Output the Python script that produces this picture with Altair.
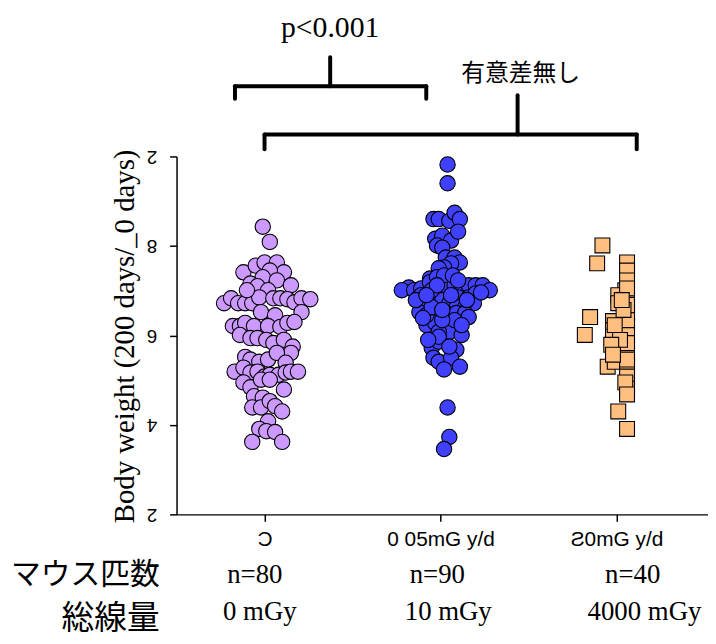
import json
import altair as alt
import pandas as pd

# ---------------- data ----------------
groups = ["C", "0.05 mGy/d", "20 mGy/d"]
tick_text = ["Ɔ", "0 05mG y/d", "Ƨ0mG y/d"]
colors = ["#cc99ff", "#4040ff", "#ffbf80"]

# group C (n=80): horizontal jitter (category units) and body-weight ratio (axis units)
c_offset = [-0.01, 0.03, -0.12, -0.05, 0.00, 0.07, 0.11, 0.03, -0.01, 0.07,
            -0.08, -0.04, 0.15, 0.02, -0.23, -0.19, -0.15, -0.11, -0.07, -0.03,
            0.05, 0.09, 0.13, 0.17, 0.21, 0.26, -0.02, 0.06, 0.21, -0.18,
            -0.14, -0.11, -0.06, 0.02, 0.09, 0.13, 0.17, -0.14, -0.08, -0.04,
            0.01, 0.05, 0.11, 0.16, 0.15, -0.11, -0.08, -0.03, 0.02, 0.07,
            0.12, -0.17, -0.12, -0.08, -0.04, 0.00, 0.03, 0.08, 0.12, 0.15,
            0.19, -0.12, -0.08, -0.02, 0.03, 0.11, -0.06, -0.01, -0.07, -0.02,
            0.03, 0.06, 0.10, 0.02, -0.03, 0.01, 0.06, -0.07, 0.10, -0.10]
c_value = [8.43, 8.09, 7.41, 7.56, 7.63, 7.63, 7.41, 7.45, 7.30, 7.23,
           7.16, 7.10, 7.12, 7.01, 6.72, 6.83, 6.72, 6.72, 6.72, 6.85,
           6.83, 6.83, 6.81, 6.74, 6.83, 6.81, 6.52, 6.45, 6.52, 6.21,
           6.21, 6.28, 6.21, 6.21, 6.19, 6.28, 6.30, 6.01, 5.94, 5.94,
           5.90, 5.83, 5.90, 5.75, 5.61, 5.52, 5.46, 5.41, 5.46, 5.61,
           5.39, 5.19, 5.28, 5.17, 5.19, 5.08, 5.12, 5.12, 5.17, 5.19,
           5.19, 4.95, 4.84, 5.01, 5.01, 4.79, 4.64, 4.61, 4.39, 4.39,
           4.53, 4.42, 4.30, 4.08, 3.91, 3.86, 3.84, 3.62, 3.62, 7.01]

# group 0.05 mGy/d (n=90)
l_offset = [0.04, 0.04, -0.04, -0.01, 0.05, 0.08, 0.11, -0.03, 0.01, 0.06,
            0.10, -0.02, 0.01, 0.03, 0.08, 0.11, 0.06, 0.02, -0.01, -0.06,
            0.02, -0.18, -0.22, -0.15, -0.11, -0.06, -0.02, 0.02, -0.02, 0.03,
            0.08, 0.13, 0.16, 0.20, 0.24, 0.28, 0.10, 0.16, 0.20, -0.12,
            -0.08, -0.04, 0.01, 0.05, 0.09, 0.14, 0.19, -0.12, -0.01, 0.03,
            0.09, 0.14, 0.16, -0.08, -0.03, 0.02, 0.05, 0.12, -0.01, -0.05,
            -0.01, 0.09, -0.04, -0.01, 0.06, 0.02, 0.11, -0.08, -0.05, -0.10,
            -0.01, -0.07, 0.05, 0.08, -0.11, 0.06, 0.15, -0.05, 0.12, 0.01,
            -0.14, 0.23, 0.05, 0.02, 0.04, -0.02, 0.07, 0.10, -0.08, 0.01]
l_value = [9.82, 9.40, 8.60, 8.60, 8.56, 8.74, 8.60, 8.16, 8.23, 8.12,
           8.32, 8.01, 7.96, 7.74, 7.74, 7.63, 7.61, 7.52, 7.50, 7.27,
           7.27, 7.07, 7.01, 7.01, 7.05, 7.19, 7.30, 7.34, 6.94, 7.01,
           7.12, 7.05, 7.12, 7.12, 7.12, 7.01, 6.85, 6.85, 6.94, 6.74,
           6.72, 6.79, 6.79, 6.72, 6.63, 6.63, 6.72, 6.52, 6.52, 6.50,
           6.50, 6.50, 6.41, 6.23, 6.28, 6.19, 6.08, 6.01, 6.08, 5.72,
           5.86, 5.68, 5.50, 5.41, 5.50, 5.24, 5.30, 6.45, 6.63, 6.39,
           5.97, 5.90, 5.75, 6.34, 6.90, 6.90, 6.79, 7.01, 6.23, 6.34,
           6.79, 6.96, 3.73, 3.46, 4.39, 7.12, 7.34, 7.23, 6.90, 6.57]

# group 20 mGy/d (n=40)
h_offset = [-0.08, -0.11, 0.06, 0.06, 0.06, 0.05, 0.01, 0.06, 0.01, 0.06,
            -0.15, -0.02, 0.06, -0.18, -0.02, -0.02, 0.06, -0.01, 0.03, 0.06,
            -0.05, -0.01, 0.06, 0.06, 0.06, 0.01, 0.06, 0.06, 0.06, 0.06,
            0.06, 0.06, 0.04, 0.02, -0.03, -0.02, 0.05, 0.03, 0.06, -0.01]
h_value = [8.01, 7.61, 7.63, 7.45, 7.23, 7.01, 6.90, 6.83, 6.72, 6.50,
           6.41, 6.32, 6.23, 6.01, 6.12, 5.97, 6.01, 5.75, 5.70, 5.61,
           5.30, 5.41, 5.30, 5.08, 4.81, 4.30, 3.91, 7.05, 6.68, 6.34,
           5.83, 5.46, 6.57, 5.90, 5.79, 5.57, 4.95, 6.79, 4.68, 6.23]

y_ticks = [2, 4, 6, 8, 10]
y_tick_text = ["2", "4", "6", "8", "2"]

# bracket geometry (axis units)
br_h_x = [-0.168, 0.000]
br_h_x2 = [0.919, 2.115]
br_h_y = [11.57, 10.49]
br_v_x = [-0.168, 0.919, 0.373, 0.000, 2.115, 1.438]
br_v_y = [11.29, 11.29, 11.57, 10.16, 10.16, 10.49]
br_v_y2 = [11.57, 11.57, 12.22, 10.49, 10.49, 11.37]

sig_text = ["p<0.001"]
sig_x = [0.373]
sig_y = [12.88]
ns_text = ["有意差無し"]
ns_x = [1.455]
ns_y = [11.84]

row_head = ["マウス匹数", "総線量"]
row_head_size = [30, 33]
row_head_x = [-0.596, -0.596]
row_head_y = [0.648, -0.33]

n_text = ["n=80", "n=90", "n=40"]
n_x = [-0.055, 0.982, 2.092]
n_y = [0.648, 0.648, 0.648]
dose_text = ["0 mGy", "10 mGy", "4000 mGy"]
dose_x = [-0.027, 1.044, 2.159]
dose_y = [-0.194, -0.194, -0.194]

# ---------------- frames ----------------
rows = []
for gi, (offs, vals) in enumerate([(c_offset, c_value), (l_offset, l_value), (h_offset, h_value)]):
    for o, v in zip(offs, vals):
        rows.append({"group": groups[gi], "x": gi + o, "y": v})
pts = pd.DataFrame(rows)

xscale = alt.Scale(domain=[-0.5, 2.52], nice=False, zero=False)
yscale = alt.Scale(domain=[2, 10], nice=False, zero=False)

# trailing no-break spaces nudge the centred labels to the left as in the reference
padded = [t + "\u00a0\u00a0\u00a0\u00a0" for t in tick_text]
x_label_expr = json.dumps(padded) + "[datum.value]"
y_label_expr = json.dumps(y_tick_text) + "[(datum.value - 2) / 2]"

xaxis = alt.Axis(
    values=[0, 1, 2], labelExpr=x_label_expr, title=None, grid=False,
    domainColor="black", domainWidth=1.5, tickColor="black", tickWidth=1.5,
    tickSize=7, labelFont="Liberation Sans", labelFontSize=21,
    labelColor="black", labelPadding=7)
yaxis = alt.Axis(
    values=y_ticks, labelExpr=y_label_expr, grid=False,
    title="Body weight (200 days/_0 days)", titleFont="Liberation Serif",
    titleFontSize=29, titleFontWeight="normal", titleColor="black",
    titleX=-52, titleY=181, titleAngle=270, titleAlign="center",
    titleBaseline="middle",
    domainColor="black", domainWidth=1.5, tickColor="black", tickWidth=1.5,
    tickSize=7, labelFont="Liberation Sans", labelFontSize=19,
    labelColor="black", labelAngle=180, labelAlign="left",
    labelBaseline="middle", labelPadding=13)
X = alt.X("x:Q", scale=xscale, axis=xaxis)
Y = alt.Y("y:Q", scale=yscale, axis=yaxis)

color = alt.Color("group:N", scale=alt.Scale(domain=groups, range=colors), legend=None)

circles = alt.Chart(pts[pts.group != groups[2]]).mark_point(
    shape="circle", filled=True, size=240, stroke="black", strokeWidth=1.1,
    opacity=1).encode(x=X, y=Y, color=color)

squares = alt.Chart(pts[pts.group == groups[2]]).mark_point(
    shape="square", filled=True, size=225, stroke="black", strokeWidth=1.1,
    opacity=1).encode(x=X, y=Y, color=color)

hdf = pd.DataFrame({"x": br_h_x, "x2": br_h_x2, "y": br_h_y})
vdf = pd.DataFrame({"x": br_v_x, "y": br_v_y, "y2": br_v_y2})
br_h = alt.Chart(hdf).mark_rule(color="black", strokeWidth=4, strokeCap="round").encode(
    x=X, x2="x2:Q", y=Y)
br_v = alt.Chart(vdf).mark_rule(color="black", strokeWidth=4, strokeCap="round").encode(
    x=X, y=Y, y2="y2:Q")

sig = alt.Chart(pd.DataFrame({"x": sig_x, "y": sig_y, "t": sig_text})).mark_text(
    font="Liberation Serif", fontSize=30, color="black", baseline="middle",
    align="center").encode(x=X, y=Y, text="t:N")
ns = alt.Chart(pd.DataFrame({"x": ns_x, "y": ns_y, "t": ns_text})).mark_text(
    font="Noto Sans CJK JP", fontSize=24, color="black", baseline="middle",
    align="center").encode(x=X, y=Y, text="t:N")

head = alt.Chart(pd.DataFrame({"x": row_head_x, "y": row_head_y, "t": row_head,
                               "s": row_head_size})).mark_text(
    font="Noto Sans CJK JP", color="black", baseline="middle", align="right").encode(
    x=X, y=Y, text="t:N", size=alt.Size("s:Q", scale=None, legend=None))

ntx = alt.Chart(pd.DataFrame({"x": n_x, "y": n_y, "t": n_text})).mark_text(
    font="Liberation Serif", fontSize=27, color="black", baseline="middle",
    align="center").encode(x=X, y=Y, text="t:N")
dtx = alt.Chart(pd.DataFrame({"x": dose_x, "y": dose_y, "t": dose_text})).mark_text(
    font="Liberation Serif", fontSize=27, color="black", baseline="middle",
    align="center").encode(x=X, y=Y, text="t:N")

chart = alt.layer(circles, squares, br_h, br_v, sig, ns, head, ntx, dtx).properties(
    width=536, height=361,
    padding={"left": 170, "top": 147, "right": 0, "bottom": 126},
    autosize=alt.AutoSizeParams(type="none"),
    background="white",
).configure_view(stroke=None)

chart.save("out.html", embed_options={"renderer": "svg", "actions": False})
